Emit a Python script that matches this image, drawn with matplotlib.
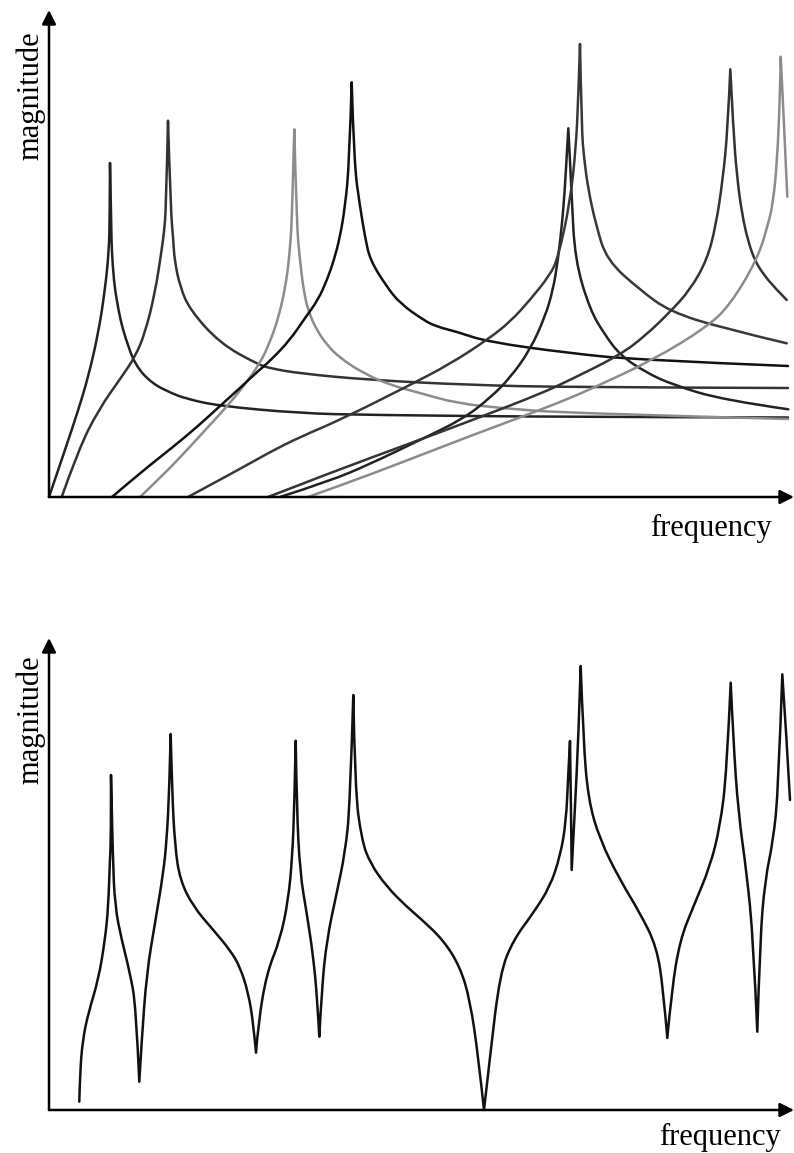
import matplotlib.pyplot as plt
from matplotlib.path import Path
from matplotlib.patches import PathPatch
import numpy as np

# Individual mode responses (top) and their combined response (bottom).
# Values, in arbitrary frequency / magnitude units.

# mode 1
f1 = [0, 16, 29.3, 39.3, 49.3, 56, 60, 60.7, 61,
      62.3, 62.7, 65, 67.7, 71.5, 76, 86, 102.7, 122.7, 136, 167.7, 251, 321, 521, 739]
m1 = [0, 47, 87, 120.3, 163.7, 207, 247, 280, 334,
      270.3, 247, 215, 197, 177, 160.3, 132, 113.7, 103.7, 98.7, 91.3, 83.7, 82, 80, 79.5]

# mode 2
f2 = [12.7, 29.3, 49.3, 72.7, 86, 96, 106, 112.7, 115, 117, 119,
      121.7, 124.3, 125.5, 131, 141, 171, 208, 221, 251, 321, 421, 521, 739]
m2 = [0, 47, 87, 120.3, 140, 163.7, 204, 247, 265, 287, 376.3,
      287, 257, 237, 210.3, 187, 153.7, 133, 128.7, 123.5, 117, 112, 109.7, 109]

# mode 3
f3 = [91, 116, 141, 159.3, 177.7, 194.3, 211, 221, 229, 235, 239, 241.5, 243, 245.3,
      247.7, 251, 254.5, 259, 267, 278, 291, 314, 341, 371, 407.7, 454.3, 521, 739]
m3 = [0, 23.7, 50.3, 70.3, 90.3, 110.3, 133.7, 155, 178, 203, 228, 255, 280, 367.7,
      270.3, 237, 207, 187, 168, 152, 139, 124, 112, 104, 93.7, 88.7, 83.7, 78]

# mode 4
f4 = [63, 91, 124, 148, 171, 191, 208, 221, 241, 256, 269, 278, 285, 291, 296, 300.3, 302.7,
      305, 311, 316, 321, 337.7, 351, 374.3, 387.7, 407.7, 437.7, 521, 591, 739]
m4 = [0, 24, 50, 70, 91, 109, 125, 136, 157, 179, 197, 217, 237, 260, 290, 334, 414.7,
      333.7, 290.3, 260.3, 237, 210.3, 193.7, 177, 170.3, 165.3, 155.3, 143.7, 137, 131]

# mode 5
f5 = [231, 281, 321, 371, 414, 441, 461, 481, 496, 504, 509, 514, 517, 519.3,
      521.5, 522.7, 526, 541, 556, 571, 596, 624.3, 674.3, 739.3]
m5 = [0, 16, 33, 57, 78, 99, 119, 147, 180, 207, 237, 282, 327, 368.7,
      327, 300.3, 237, 187, 162, 142, 125, 112, 97, 87.7]

# mode 6
f6 = [139, 191, 221, 251, 291, 361, 401, 438, 461, 481, 501, 509, 521, 527, 529.3, 531,
      532.7, 535, 539.3, 547, 557.7, 591, 621, 674.3, 737.7]
m6 = [0, 28, 45, 60, 77, 112, 133, 157, 175, 197, 222, 239, 294, 350, 400.3, 453,
      367, 339, 307, 272, 237, 207, 185.3, 168.7, 153.7]

# mode 7
f7 = [219, 286, 354, 421, 491, 521, 571, 596, 621, 641, 658, 667, 673.7, 678.7, 681.3,
      684.3, 688, 693, 699, 706, 715, 726, 737.7]
m7 = [0, 26, 51, 76, 103, 117, 142, 161, 185, 207, 237, 272, 317, 367, 427.7,
      367, 320, 283, 256, 236, 222, 209, 197]

# mode 8
f8 = [259, 301, 354, 421, 491, 521, 544, 604, 658, 681, 708, 719, 724, 728, 731, 731.7,
      733.7, 736, 738.3]
m8 = [0, 15, 35, 61, 87, 99, 109, 137, 170, 192, 237, 272, 294, 334, 400, 440.3,
      400.3, 350.3, 300.3]

modes = [(f1, m1), (f2, m2), (f3, m3), (f4, m4), (f5, m5), (f6, m6), (f7, m7), (f8, m8)]
mode_colors = ['#222222', '#333333', '#8c8c8c', '#111111',
               '#222222', '#383838', '#333333', '#8c8c8c']

# combined response
f_sum = [30.3, 31, 33.7, 39.3, 49.3, 56, 59.3, 61, 62, 62,
         63.7, 66, 72.7, 81, 87, 90.3,
         92.7, 97.7, 106, 114.3, 117.7, 120.3, 121.7,
         123, 126, 131, 144.3, 164.3, 181, 191, 199.3, 204.3, 207,
         209.3, 217.7, 231, 239.3, 243.3, 245.3, 246.7,
         247.7, 251, 257.7, 264.3, 268.3, 270.3,
         272.7, 277.7, 287.7, 296, 301, 304.3,
         306, 312.7, 321, 337.7, 357.7, 371, 394.3, 411, 421, 429.3, 435,
         441, 451, 464.3, 484.3, 501, 511, 517, 519.3, 521,
         522, 522.7,
         526, 529.3, 531.7,
         534.3, 539.3, 551, 571, 591, 607.7, 614.3, 618.3,
         622.7, 631, 644.3, 661, 671, 677.7, 681.7,
         684.3, 689.3, 697.7, 704.3, 708.3,
         711, 716, 724.3, 729.3, 733.3,
         737.7, 741]
m_sum = [8.3, 37, 70, 97, 130, 170, 203.3, 253.3, 270, 335,
         253.3, 203.3, 170, 137, 103.3, 28.3,
         70, 137, 187, 237, 270, 320, 376,
         320, 263.3, 230, 203.3, 180, 160, 143.3, 117, 87, 57.3,
         87, 137, 170, 210, 253.3, 303.3, 369.3,
         303.3, 237, 197, 153.3, 110, 73.3,
         120, 170, 217, 257, 303.3, 415,
         320, 270, 247, 223.3, 203.3, 192, 170, 143.3, 110, 53.3, 0,
         53.3, 137, 170, 197, 223.3, 253.3, 287, 337, 369,
         303.3, 240,
         303.3, 370, 444,
         370, 310, 270, 230, 197, 163.3, 120, 72,
         120, 170, 203.3, 243.3, 283.3, 337, 427.3,
         370, 297, 237, 170, 78.3,
         170, 230, 270, 320, 435.7,
         370, 310]


def smooth_path(f, m):
    # quadratic B-spline through the read points, sharp at every peak and dip
    pts = np.column_stack([f, m]).astype(float)
    d = np.sign(np.diff(pts[:, 1]))
    cusps = [0] + [i for i in range(1, len(pts) - 1) if d[i - 1] * d[i] < 0] + [len(pts) - 1]
    verts, codes = [pts[0]], [Path.MOVETO]
    for a, b in zip(cusps[:-1], cusps[1:]):
        seg = pts[a:b + 1]
        if len(seg) == 2:
            verts.append(seg[1])
            codes.append(Path.LINETO)
            continue
        for j in range(1, len(seg) - 2):
            verts += [seg[j], (seg[j] + seg[j + 1]) / 2]
            codes += [Path.CURVE3, Path.CURVE3]
        verts += [seg[-2], seg[-1]]
        codes += [Path.CURVE3, Path.CURVE3]
    return Path(verts, codes)


W, H = 794, 1153
fig = plt.figure(figsize=(W / 100, H / 100), dpi=100)

serif = ['Liberation Serif', 'DejaVu Serif']


def setup(ax, ytop, ylab_y, xlab_x, xlab_y):
    ax.set_xlim(0, 745)
    ax.set_ylim(0, ytop)
    ax.axis('off')
    arrow = dict(arrowstyle='-|>,head_length=0.4,head_width=0.2', lw=1.8,
                 color='black', mutation_scale=21, shrinkA=0, shrinkB=0)
    ax.annotate('', xy=(1, 0), xytext=(0, 0), xycoords='axes fraction',
                arrowprops=arrow)
    ax.annotate('', xy=(0, 1), xytext=(0, 0), xycoords='axes fraction',
                arrowprops=arrow)
    ax.text(-0.024, ylab_y, 'magnitude', transform=ax.transAxes, rotation=90,
            ha='center', va='center', fontsize=22, family=serif)
    ax.text(xlab_x, xlab_y, 'frequency', transform=ax.transAxes,
            ha='center', va='center', fontsize=22, family=serif)


def draw_curve(ax, f, m, color):
    ax.add_patch(PathPatch(smooth_path(f, m), fill=False, edgecolor=color, lw=1.8,
                           joinstyle='round', capstyle='round', clip_on=False))


ax1 = fig.add_axes([49 / W, 1 - 497 / H, 745 / W, 487 / H])
setup(ax1, 487, 0.825, 0.889, -0.064)
for (f, m), c in zip(modes, mode_colors):
    draw_curve(ax1, f, m, c)

ax2 = fig.add_axes([49 / W, 1 - 1110 / H, 745 / W, 472 / H])
setup(ax2, 472, 0.826, 0.900, -0.059)
draw_curve(ax2, f_sum, m_sum, '#111111')

fig.savefig('out.png', dpi=100, facecolor='white')
